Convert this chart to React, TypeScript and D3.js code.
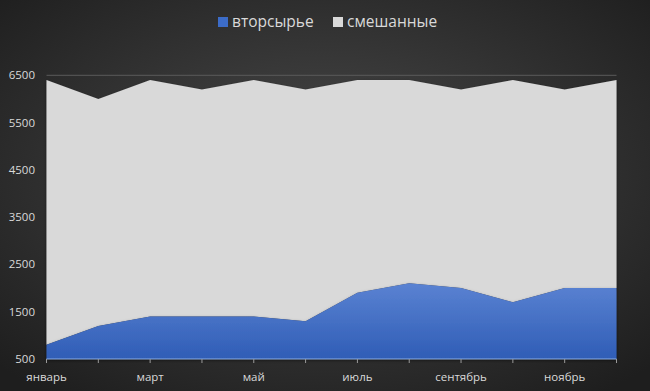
import React from "react";
import * as d3 from "d3";

const months = ["январь","февраль","март","апрель","май","июнь","июль","август","сентябрь","октябрь","ноябрь","декабрь"];
const recycled = [800,1200,1400,1400,1400,1300,1900,2100,2000,1700,2000,2000];
const mixed = [5600,4800,5000,4800,5000,4900,4500,4300,4200,4700,4200,4400];
const yTicks = [500,1500,2500,3500,4500,5500,6500];
const seriesNames = ["вторсырье","смешанные"];

const W = 650, H = 391;
const M = { left: 46.5, right: 616.5, top: 75.3, bottom: 359 };

export default function App() {
  const x = d3.scalePoint<string>().domain(months).range([M.left, M.right]);
  const y = d3.scaleLinear().domain([500, 6500]).range([M.bottom, M.top]);
  const rows = months.map((m, i) => ({ m, a: recycled[i], b: mixed[i] }));
  const stack = d3.stack<any>().keys(["a", "b"])(rows);
  const area = d3.area<any>()
    .x((d: any) => x(d.data.m)!)
    .y0((d: any) => y(Math.max(500, d[0])))
    .y1((d: any) => y(d[1]));
  const font = "'Open Sans', 'Liberation Sans', sans-serif";
  return (
    <svg width={W} height={H} style={{ position: "absolute", left: 0, top: 0, display: "block" }}>
      <defs>
        <radialGradient id="bg" cx="50%" cy="45%" r="70%">
          <stop offset="0%" stopColor="#4a4a4a" />
          <stop offset="100%" stopColor="#1e1e1e" />
        </radialGradient>
        <linearGradient id="blue" x1="0" y1="0" x2="0" y2="1">
          <stop offset="0%" stopColor="#5a82d2" />
          <stop offset="100%" stopColor="#2f5db6" />
        </linearGradient>
        <filter id="sh" x="-5%" y="-5%" width="110%" height="115%">
          <feDropShadow dx="0" dy="1.5" stdDeviation="1.5" floodColor="#000" floodOpacity="0.5" />
        </filter>
      </defs>
      <rect x={0} y={0} width={W} height={H} fill="url(#bg)" />
      <line x1={M.left} x2={M.right} y1={y(6500)} y2={y(6500)} stroke="#5a5a5a" strokeWidth={1} />
      <path d={area(stack[1] as any)!} fill="#d9d9d9" filter="url(#sh)" />
      <path d={area(stack[0] as any)!} fill="url(#blue)" filter="url(#sh)" />
      <line x1={M.left} x2={M.right} y1={M.bottom} y2={M.bottom} stroke="#8fb0e6" strokeWidth={1} />
      {months.map((m) => (
        <line key={m} x1={x(m)} x2={x(m)} y1={M.bottom} y2={M.bottom + 4} stroke="#9a9a9a" strokeWidth={1} />
      ))}
      {months.map((m, i) => i % 2 === 0 ? (
        <text key={m} x={x(m)} y={381} textAnchor="middle" fill="#d9d9d9" fontSize={11.5} fontFamily={font}>{m}</text>
      ) : null)}
      {yTicks.map((t) => (
        <text key={t} x={35} y={y(t) + 4} textAnchor="end" fill="#d9d9d9" fontSize={11.5} fontFamily={font}>{t}</text>
      ))}
      <rect x={218} y={17} width={10} height={10} fill="#3c6cc8" />
      <text x={232} y={27} fill="#d9d9d9" fontSize={15.5} fontFamily={font}>{seriesNames[0]}</text>
      <rect x={333} y={17} width={10} height={10} fill="#d9d9d9" />
      <text x={347} y={27} fill="#d9d9d9" fontSize={15.5} fontFamily={font}>{seriesNames[1]}</text>
    </svg>
  );
}
